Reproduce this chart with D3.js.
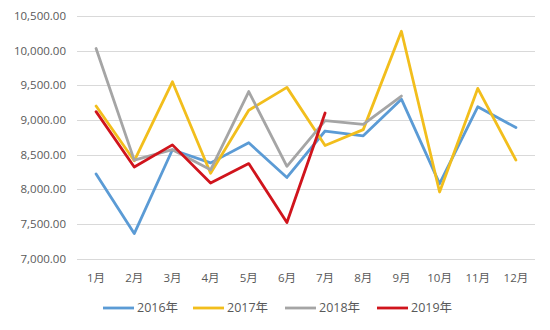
<!DOCTYPE html>
<html>
<head>
<meta charset="utf-8">
<script src="https://cdn.jsdelivr.net/npm/d3@7"></script>
<style>
  html, body { margin: 0; padding: 0; background: #fff; }
  svg text { font-family: "Open Sans", "Noto Sans CJK SC", sans-serif; fill: #595959; }
</style>
</head>
<body>
<svg id="chart" width="550" height="330"></svg>
<script>
// Monthly values per year
const months = ["1月","2月","3月","4月","5月","6月","7月","8月","9月","10月","11月","12月"];
const seriesNames = ["2016年","2017年","2018年","2019年"];
const values2016 = [8220, 7360, 8570, 8380, 8670, 8170, 8840, 8770, 9300, 8080, 9190, 8890];
const values2017 = [9200, 8410, 9550, 8230, 9140, 9470, 8630, 8860, 10280, 7960, 9455, 8420];
const values2018 = [10030, 8420, 8570, 8280, 9410, 8330, 8990, 8935, 9345];
const values2019 = [9120, 8320, 8640, 8090, 8370, 7520, 9100];
const yTicks = [7000, 7500, 8000, 8500, 9000, 9500, 10000, 10500];
const colors = ["#5B9BD5", "#F2BE1C", "#A5A5A5", "#D0141C"];

const allSeries = [values2016, values2017, values2018, values2019];

const svg = d3.select("#chart");
const plot = { left: 77, right: 535, top: 16, bottom: 258.5 };

const x = d3.scalePoint().domain(months).range([plot.left, plot.right]).padding(0.5);
const y = d3.scaleLinear().domain([7000, 10500]).range([plot.bottom, plot.top]);

// Gridlines
svg.append("g").selectAll("line").data(yTicks).join("line")
  .attr("x1", plot.left).attr("x2", plot.right)
  .attr("y1", d => Math.round(y(d)) + 0.5).attr("y2", d => Math.round(y(d)) + 0.5)
  .attr("stroke", "#D9D9D9").attr("stroke-width", 1);

// Y axis labels
const fmt = d3.format(",.2f");
svg.append("g").selectAll("text").data(yTicks).join("text")
  .attr("x", 66).attr("y", d => y(d)).attr("dy", "0.35em")
  .attr("text-anchor", "end").attr("font-size", 11.5)
  .text(d => fmt(d));

// X axis labels
svg.append("g").selectAll("text").data(months).join("text")
  .attr("x", d => x(d)).attr("y", 278).attr("dy", "0.35em")
  .attr("text-anchor", "middle").attr("font-size", 11.5)
  .text(d => d);

// Lines
const line = d3.line().x((d, i) => x(months[i])).y(d => y(d));
svg.append("g").selectAll("path").data(allSeries).join("path")
  .attr("d", d => line(d))
  .attr("fill", "none")
  .attr("stroke", (d, i) => colors[i])
  .attr("stroke-width", 2.8)
  .attr("stroke-linejoin", "round")
  .attr("stroke-linecap", "round");

// Legend
const legendX = [103, 193, 285, 377];
const lg = svg.append("g").selectAll("g").data(seriesNames).join("g")
  .attr("transform", (d, i) => `translate(${legendX[i]},308)`);
lg.append("line").attr("x1", 0).attr("x2", 31).attr("y1", 0).attr("y2", 0)
  .attr("stroke", (d, i) => colors[i]).attr("stroke-width", 2.8);
lg.append("text").attr("x", 34).attr("y", 0).attr("dy", "0.35em")
  .attr("font-size", 12.5).text(d => d);
</script>
</body>
</html>
